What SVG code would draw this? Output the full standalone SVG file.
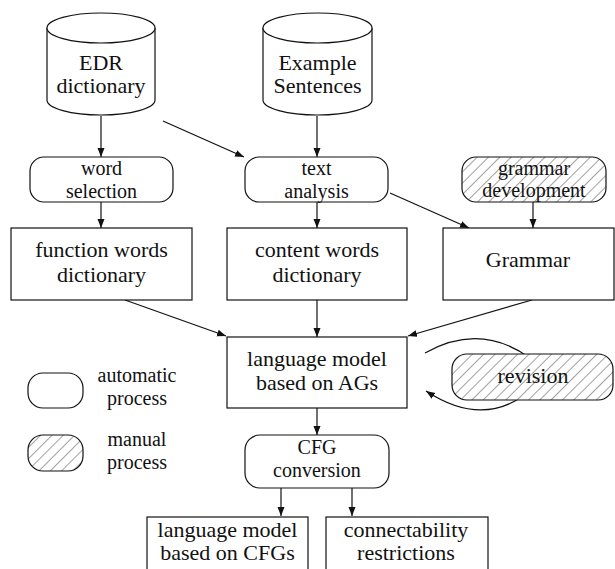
<svg xmlns="http://www.w3.org/2000/svg" width="615" height="569" viewBox="0 0 615 569">
<style>
.s{fill:#fff;stroke:#111;stroke-width:1.2}
.h{fill:url(#hatch);stroke:#111;stroke-width:1.2}
.t{font-family:'Liberation Serif','DejaVu Serif',serif;font-size:22px;fill:#111;text-anchor:middle}
.n{font-size:20px}
.c{fill:none;stroke:#111;stroke-width:1.2}
</style>
<defs>
<pattern id="hatch" patternUnits="userSpaceOnUse" width="8" height="8" patternTransform="rotate(45)">
<rect width="8" height="8" fill="#fff"/>
<line x1="0" y1="0" x2="0" y2="8" stroke="#444" stroke-width="1"/>
</pattern>
<marker id="a" markerUnits="userSpaceOnUse" markerWidth="10" markerHeight="8" refX="9" refY="4" orient="auto">
<path d="M0,0.5 L9,4 L0,7.5 z" fill="#111"/>
</marker>
</defs>
<g id="connectors" class="c">
<path d="M101,116 L101,157" marker-end="url(#a)"/>
<path d="M317,116 L317,157" marker-end="url(#a)"/>
<path d="M163,121 L244,157" marker-end="url(#a)"/>
<path d="M101,202 L101,228" marker-end="url(#a)"/>
<path d="M317,202 L317,228" marker-end="url(#a)"/>
<path d="M390,193 L469,228" marker-end="url(#a)"/>
<path d="M533,202 L533,228" marker-end="url(#a)"/>
<path d="M125,300 L226,336" marker-end="url(#a)"/>
<path d="M317,300 L317,337" marker-end="url(#a)"/>
<path d="M532,300 L408,336" marker-end="url(#a)"/>
<path d="M317,408 L317,435" marker-end="url(#a)"/>
<path d="M281,488 L281,516" marker-end="url(#a)"/>
<path d="M352,488 L352,516" marker-end="url(#a)"/>
<path d="M425,353 Q480,322 530,358"/>
<path d="M520,398 Q478,425 426,391" marker-end="url(#a)"/>
</g>
<g id="edr">
<path class="s" d="M47,28 L47,100 A54,15 0 0 0 155,100 L155,28"/>
<ellipse class="s" cx="101" cy="28" rx="54" ry="15"/>
<text class="t" x="101" y="70">EDR</text>
<text class="t" x="101" y="93">dictionary</text>
</g>
<g id="example">
<path class="s" d="M263,28 L263,100 A54.5,15 0 0 0 372,100 L372,28"/>
<ellipse class="s" cx="317.5" cy="28" rx="54.5" ry="15"/>
<text class="t" x="317.5" y="70">Example</text>
<text class="t" x="317.5" y="93">Sentences</text>
</g>
<g id="word-selection">
<rect class="s" x="30" y="157" width="143" height="45" rx="14"/>
<text class="t n" x="101.5" y="175">word</text>
<text class="t n" x="101.5" y="197.5">selection</text>
</g>
<g id="text-analysis">
<rect class="s" x="245" y="157" width="143" height="45" rx="14"/>
<text class="t n" x="316.5" y="175">text</text>
<text class="t n" x="316.5" y="197.5">analysis</text>
</g>
<g id="grammar-development">
<rect class="h" x="462" y="157" width="144" height="45" rx="14"/>
<text class="t n" x="534" y="174.5">grammar</text>
<text class="t n" x="534" y="197">development</text>
</g>
<g id="function-words">
<rect class="s" x="11" y="228" width="181" height="72"/>
<text class="t" x="101.5" y="257">function words</text>
<text class="t" x="101.5" y="282">dictionary</text>
</g>
<g id="content-words">
<rect class="s" x="227" y="228" width="180" height="72"/>
<text class="t" x="317" y="257">content words</text>
<text class="t" x="317" y="282">dictionary</text>
</g>
<g id="grammar">
<rect class="s" x="443" y="228" width="171" height="72"/>
<text class="t" x="528" y="267">Grammar</text>
</g>
<g id="language-model-ag">
<rect class="s" x="227" y="337" width="180" height="71"/>
<text class="t" x="317" y="366">language model</text>
<text class="t" x="317" y="390">based on AGs</text>
</g>
<g id="revision">
<rect class="h" x="452" y="354" width="161" height="46" rx="15"/>
<text class="t" x="533" y="383">revision</text>
</g>
<g id="legend-automatic">
<rect class="s" x="28" y="373" width="55" height="35" rx="15"/>
<text class="t n" x="137" y="382">automatic</text>
<text class="t n" x="137" y="404.5">process</text>
</g>
<g id="legend-manual">
<rect class="h" x="28" y="435" width="55" height="36" rx="15"/>
<text class="t n" x="137" y="446">manual</text>
<text class="t n" x="137" y="468.5">process</text>
</g>
<g id="cfg-conversion">
<rect class="s" x="245" y="435" width="144" height="53" rx="15"/>
<text class="t n" x="317" y="454">CFG</text>
<text class="t n" x="317" y="476.5">conversion</text>
</g>
<g id="language-model-cfg">
<rect class="s" x="147" y="517" width="161" height="70"/>
<text class="t" x="227.5" y="537">language model</text>
<text class="t" x="227.5" y="560">based on CFGs</text>
</g>
<g id="connectability">
<rect class="s" x="326" y="517" width="162" height="70"/>
<text class="t" x="406" y="537">connectability</text>
<text class="t" x="406" y="560">restrictions</text>
</g>
</svg>
